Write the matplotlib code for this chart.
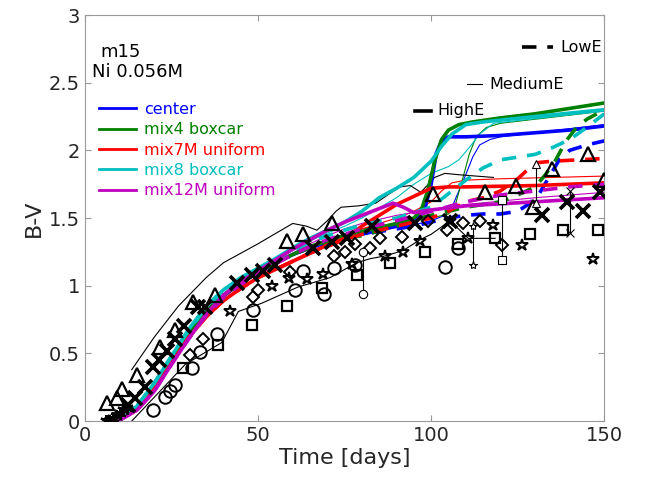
import numpy as np
import matplotlib
matplotlib.use("Agg")
import matplotlib.pyplot as plt
from matplotlib.ticker import FormatStrFormatter

# model light curves (B-V vs days)
center_high_t = [9.5, 15, 20, 25, 30, 35, 40, 45, 50, 55, 60, 65, 70, 75, 80, 85, 90, 95, 98, 100, 101.5, 103, 105, 110, 120, 130, 140, 150]
center_high_bv = [0, 0.1, 0.26, 0.46, 0.65, 0.81, 0.93, 1.02, 1.10, 1.17, 1.23, 1.28, 1.32, 1.35, 1.38, 1.41, 1.44, 1.47, 1.55, 1.75, 1.98, 2.07, 2.10, 2.10, 2.11, 2.13, 2.15, 2.18]
center_med_t = [9.5, 15, 20, 25, 30, 35, 40, 45, 50, 55, 60, 65, 70, 75, 80, 85, 90, 95, 100, 104, 106, 108, 110, 112, 114, 117, 120, 130, 140, 150]
center_med_bv = [0, 0.1, 0.26, 0.45, 0.64, 0.80, 0.92, 1.01, 1.09, 1.16, 1.23, 1.29, 1.34, 1.38, 1.41, 1.42, 1.43, 1.45, 1.48, 1.52, 1.58, 1.70, 1.82, 1.95, 2.04, 2.08, 2.10, 2.13, 2.16, 2.19]
center_low_t = [9.5, 15, 20, 25, 30, 35, 40, 45, 50, 55, 60, 65, 70, 75, 80, 85, 90, 95, 100, 105, 110, 115, 120, 125, 128, 131, 134, 137, 140, 145, 150]
center_low_bv = [0, 0.1, 0.27, 0.47, 0.66, 0.82, 0.94, 1.03, 1.10, 1.17, 1.23, 1.28, 1.32, 1.35, 1.38, 1.40, 1.42, 1.44, 1.47, 1.50, 1.52, 1.53, 1.53, 1.55, 1.60, 1.67, 1.80, 1.93, 2.00, 2.04, 2.07]

mix4_high_t = [9.5, 15, 20, 25, 30, 35, 40, 45, 50, 55, 60, 65, 70, 75, 80, 85, 90, 95, 97, 99, 101, 103, 105, 108, 112, 120, 130, 140, 150]
mix4_high_bv = [0, 0.1, 0.26, 0.46, 0.65, 0.81, 0.93, 1.02, 1.10, 1.17, 1.23, 1.29, 1.33, 1.37, 1.40, 1.43, 1.46, 1.50, 1.55, 1.70, 1.92, 2.08, 2.15, 2.19, 2.21, 2.24, 2.27, 2.31, 2.35]
mix4_med_t = [9.5, 15, 20, 25, 30, 35, 40, 45, 50, 55, 60, 65, 70, 75, 80, 90, 100, 105, 107, 109, 111, 113, 116, 120, 130, 140, 150]
mix4_med_bv = [0, 0.1, 0.26, 0.45, 0.64, 0.80, 0.92, 1.01, 1.09, 1.16, 1.23, 1.29, 1.34, 1.38, 1.42, 1.46, 1.50, 1.53, 1.60, 1.78, 1.97, 2.10, 2.17, 2.20, 2.23, 2.26, 2.29]
mix4_low_t = [9.5, 15, 20, 25, 30, 35, 40, 45, 50, 55, 60, 65, 70, 75, 80, 90, 95, 100, 105, 110, 115, 120, 125, 130, 133, 136, 139, 142, 145, 150]
mix4_low_bv = [0, 0.1, 0.26, 0.46, 0.65, 0.81, 0.93, 1.02, 1.10, 1.17, 1.23, 1.28, 1.32, 1.35, 1.37, 1.44, 1.49, 1.52, 1.55, 1.58, 1.60, 1.62, 1.67, 1.73, 1.82, 1.93, 2.07, 2.17, 2.23, 2.30]

mix7_high_t = [9.5, 15, 20, 25, 30, 35, 40, 45, 50, 55, 60, 65, 70, 75, 80, 85, 90, 95, 100, 105, 110, 130, 150]
mix7_high_bv = [0, 0.09, 0.24, 0.43, 0.62, 0.77, 0.89, 0.98, 1.06, 1.12, 1.18, 1.24, 1.30, 1.35, 1.44, 1.52, 1.60, 1.66, 1.72, 1.73, 1.73, 1.74, 1.76]
mix7_med_t = [9.5, 15, 20, 25, 30, 35, 40, 45, 50, 55, 60, 65, 70, 75, 80, 90, 95, 100, 103, 106, 110, 120, 150]
mix7_med_bv = [0, 0.09, 0.24, 0.43, 0.62, 0.77, 0.89, 0.98, 1.06, 1.13, 1.19, 1.25, 1.31, 1.37, 1.42, 1.50, 1.55, 1.62, 1.70, 1.76, 1.78, 1.79, 1.81]
mix7_low_t = [9.5, 15, 20, 25, 30, 35, 40, 45, 50, 55, 60, 65, 70, 75, 80, 90, 100, 105, 110, 115, 120, 125, 128, 131, 135, 150]
mix7_low_bv = [0, 0.09, 0.24, 0.43, 0.62, 0.77, 0.89, 0.98, 1.06, 1.12, 1.18, 1.24, 1.29, 1.34, 1.38, 1.44, 1.50, 1.55, 1.62, 1.65, 1.70, 1.79, 1.86, 1.91, 1.92, 1.94]

mix8_high_t = [9.5, 15, 20, 25, 30, 35, 40, 45, 50, 55, 60, 65, 70, 75, 80, 85, 90, 95, 100, 103, 106, 110, 115, 130, 150]
mix8_high_bv = [0, 0.11, 0.28, 0.48, 0.68, 0.85, 0.97, 1.06, 1.13, 1.20, 1.28, 1.35, 1.41, 1.47, 1.55, 1.65, 1.72, 1.80, 1.92, 2.03, 2.12, 2.19, 2.21, 2.25, 2.30]
mix8_med_t = [9.5, 15, 20, 25, 30, 35, 40, 45, 50, 55, 60, 65, 70, 75, 80, 90, 95, 100, 105, 108, 111, 114, 118, 125, 150]
mix8_med_bv = [0, 0.11, 0.28, 0.48, 0.67, 0.84, 0.96, 1.05, 1.12, 1.19, 1.26, 1.33, 1.39, 1.44, 1.50, 1.65, 1.75, 1.83, 1.88, 1.93, 2.02, 2.12, 2.20, 2.22, 2.29]
mix8_low_t = [9.5, 15, 20, 25, 30, 35, 40, 45, 50, 55, 60, 65, 70, 75, 80, 90, 100, 105, 110, 115, 120, 130, 135, 140, 145, 150]
mix8_low_bv = [0, 0.11, 0.28, 0.48, 0.67, 0.84, 0.96, 1.05, 1.12, 1.19, 1.26, 1.32, 1.37, 1.41, 1.45, 1.50, 1.58, 1.68, 1.78, 1.87, 1.93, 1.97, 2.02, 2.08, 2.17, 2.27]

mix12_high_t = [9.5, 15, 20, 25, 30, 35, 40, 45, 50, 55, 60, 65, 70, 75, 80, 85, 89, 92, 95, 100, 110, 130, 150]
mix12_high_bv = [0, 0.08, 0.22, 0.42, 0.61, 0.79, 0.93, 1.03, 1.11, 1.19, 1.27, 1.34, 1.41, 1.47, 1.52, 1.57, 1.61, 1.58, 1.54, 1.56, 1.59, 1.62, 1.65]
mix12_med_t = [9.5, 15, 20, 25, 30, 35, 40, 45, 50, 55, 60, 65, 70, 75, 80, 90, 100, 110, 130, 150]
mix12_med_bv = [0, 0.08, 0.22, 0.42, 0.61, 0.78, 0.91, 1.01, 1.09, 1.17, 1.24, 1.31, 1.37, 1.42, 1.46, 1.52, 1.56, 1.60, 1.65, 1.69]
mix12_low_t = [9.5, 15, 20, 25, 30, 35, 40, 45, 50, 55, 60, 65, 70, 75, 80, 90, 100, 110, 120, 130, 140, 150]
mix12_low_bv = [0, 0.08, 0.22, 0.42, 0.61, 0.78, 0.91, 1.01, 1.09, 1.16, 1.23, 1.29, 1.34, 1.38, 1.42, 1.48, 1.55, 1.62, 1.67, 1.70, 1.73, 1.75]

# observed SNe (open black markers)
tri_t = [6.3, 9.2, 10.6, 14.9, 21.7, 26, 31.2, 37.6, 58.3, 63, 71.3, 100.6, 115.6, 124.6, 129.4, 134.9, 145.4, 150]
tri_bv = [0.13, 0.17, 0.24, 0.34, 0.55, 0.67, 0.88, 0.93, 1.33, 1.38, 1.46, 1.68, 1.69, 1.74, 1.58, 1.86, 1.97, 1.78]
cross_t = [12.4, 14.5, 17.3, 19.7, 21.5, 23.6, 26, 28.5, 32.7, 34.7, 43.8, 48.2, 51.5, 54.9, 66, 71.3, 75.6, 82.9, 95.4, 105.5, 132, 139.2, 144, 148.8]
cross_bv = [0.12, 0.17, 0.25, 0.40, 0.45, 0.52, 0.61, 0.70, 0.84, 0.84, 1.02, 1.08, 1.11, 1.15, 1.28, 1.32, 1.35, 1.44, 1.46, 1.48, 1.52, 1.62, 1.55, 1.69]
ast_t = [6, 7, 8, 9, 10, 11, 12]
ast_bv = [0.0, 0.0, 0.02, 0.04, 0.06, 0.08, 0.10]
dia_t = [30.3, 34.2, 48.6, 50, 59.2, 71.8, 75.1, 78, 82.4, 85.3, 91.5, 99.1, 104.5, 109.3, 114.2, 120.4]
dia_bv = [0.49, 0.61, 0.92, 0.97, 1.10, 1.22, 1.25, 1.31, 1.28, 1.35, 1.36, 1.48, 1.41, 1.46, 1.48, 1.30]
circ_t = [19.7, 23.1, 24.6, 26, 30.8, 33.2, 38, 48.6, 60.7, 63.1, 68.9, 71.8, 78, 104, 107.9]
circ_bv = [0.08, 0.18, 0.22, 0.27, 0.39, 0.51, 0.64, 0.82, 0.97, 1.11, 0.94, 1.13, 1.15, 1.14, 1.28]
sq_t = [28.4, 38.5, 48.2, 58.3, 68.4, 78.5, 88.2, 98.3, 107.8, 118.5, 128.6, 138.2, 148.3]
sq_bv = [0.39, 0.56, 0.71, 0.85, 0.98, 1.08, 1.17, 1.25, 1.31, 1.35, 1.38, 1.41, 1.41]
star_t = [41.9, 54, 58.8, 64, 68.8, 77.1, 86.7, 91.9, 96.8, 105.5, 110.7, 118, 126.2, 146.8]
star_bv = [0.81, 1.0, 1.06, 1.05, 1.09, 1.16, 1.22, 1.25, 1.33, 1.48, 1.35, 1.45, 1.30, 1.20]

# error bars with small markers at the ends
eb_t = [80.2, 112.2, 120.4, 130.3, 140.2]
eb_lo = [0.94, 1.15, 1.19, 1.61, 1.39]
eb_hi = [1.25, 1.44, 1.63, 1.90, 1.70]

# thin black comparison curves
upper_t = [13.5, 20, 27, 35, 40, 50, 60, 64, 67, 70, 72.5, 74, 79, 84, 88, 91, 94, 97, 101, 104, 108, 118]
upper_bv = [0.38, 0.62, 0.85, 1.06, 1.17, 1.31, 1.46, 1.44, 1.41, 1.48, 1.55, 1.58, 1.59, 1.61, 1.68, 1.73, 1.74, 1.69, 1.80, 1.83, 1.82, 1.80]
lower_t = [13.5, 22, 29, 39.5, 44.3, 51, 61.5, 70.8, 78.5, 82.4, 86.7, 91.9, 96.8, 100, 105.5, 110.7, 118.5]
lower_bv = [0, 0.23, 0.42, 0.58, 0.81, 0.87, 0.99, 1.06, 1.17, 1.20, 1.22, 1.26, 1.34, 1.38, 1.48, 1.35, 1.35]

mix_names = ["center", "mix4 boxcar", "mix7M uniform", "mix8 boxcar", "mix12M uniform"]


def plot_models(ax):
    colors = [(0, 0, 1), (0, 0.5, 0), (1, 0, 0), (0, 0.75, 0.75), (0.75, 0, 0.75)]
    runs = [
        (center_high_t, center_high_bv, center_med_t, center_med_bv, center_low_t, center_low_bv),
        (mix4_high_t, mix4_high_bv, mix4_med_t, mix4_med_bv, mix4_low_t, mix4_low_bv),
        (mix7_high_t, mix7_high_bv, mix7_med_t, mix7_med_bv, mix7_low_t, mix7_low_bv),
        (mix8_high_t, mix8_high_bv, mix8_med_t, mix8_med_bv, mix8_low_t, mix8_low_bv),
        (mix12_high_t, mix12_high_bv, mix12_med_t, mix12_med_bv, mix12_low_t, mix12_low_bv),
    ]
    handles = []
    for c, (th, bh, tm, bm, tl, bl) in zip(colors, runs):
        ax.plot(tm, bm, color=c, lw=0.8, zorder=2)
        ax.plot(tl, bl, color=c, lw=2.6, linestyle=(0, (4, 3)), zorder=3)
        h, = ax.plot(th, bh, color=c, lw=2.6, zorder=3)
        handles.append(h)
    return handles


def plot_observed(ax):
    k = dict(color="black", linestyle="none", markerfacecolor="none", zorder=4)
    ax.plot(upper_t, upper_bv, color="black", lw=0.8, zorder=2)
    ax.plot(lower_t, lower_bv, color="black", lw=0.8, zorder=2)
    ax.plot(tri_t, tri_bv, marker="^", ms=10, mew=1.6, **k)
    ax.plot(cross_t, cross_bv, marker="x", ms=10, mew=2.6, **k)
    ax.plot(ast_t, ast_bv, marker=(6, 2, 0), ms=9, mew=1.6, **k)
    ax.plot(dia_t, dia_bv, marker="D", ms=6.5, mew=1.4, **k)
    ax.plot(circ_t, circ_bv, marker="o", ms=9, mew=1.4, **k)
    ax.plot(sq_t, sq_bv, marker="s", ms=7.5, mew=1.6, **k)
    ax.plot(star_t, star_bv, marker="*", ms=9, mew=1.4, **k)
    for t, lo, hi, m in zip(eb_t, eb_lo, eb_hi, ["o", "*", "s", "^", "x"]):
        ax.plot([t, t], [lo, hi], color="black", lw=0.8, marker=m, ms=6,
                mew=0.8, markerfacecolor="white", zorder=4)


def main():
    fig = plt.figure(figsize=(6.49, 4.84), dpi=100)
    ax = fig.add_axes([0.131, 0.130, 0.800, 0.839])
    handles = plot_models(ax)
    plot_observed(ax)

    ax.set_xlim(0, 150)
    ax.set_ylim(0, 3)
    ax.set_xticks([0, 50, 100, 150])
    ax.set_yticks([0, 0.5, 1, 1.5, 2, 2.5, 3])
    ax.yaxis.set_major_formatter(FormatStrFormatter("%g"))
    ax.tick_params(direction="in", length=4, width=0.8, colors="#999999",
                   labelcolor="#262626", labelsize=14, top=True, right=True)
    for s in ax.spines.values():
        s.set_color("#999999")
    ax.set_xlabel("Time [days]", fontsize=16, color="#262626", labelpad=2)
    ax.set_ylabel("B-V", fontsize=16, color="#262626", labelpad=4)

    leg = ax.legend(handles, mix_names, loc="upper left", bbox_to_anchor=(0.0, 0.822),
                    frameon=False, labelcolor="linecolor", fontsize=11.5,
                    handlelength=2.3, handletextpad=0.5, labelspacing=0.34)
    for ln in leg.get_lines():
        ln.set_linewidth(2.0)

    # energy key
    ax.plot([0.842, 0.902], [0.921, 0.921], transform=ax.transAxes, color="black",
            lw=2.6, linestyle=(0, (4, 3)), clip_on=False)
    ax.text(0.915, 0.921, "LowE", transform=ax.transAxes, fontsize=11.5, va="center")
    ax.plot([0.736, 0.765], [0.830, 0.830], transform=ax.transAxes, color="black", lw=0.8)
    ax.text(0.778, 0.830, "MediumE", transform=ax.transAxes, fontsize=11.5, va="center")
    ax.plot([0.636, 0.667], [0.764, 0.764], transform=ax.transAxes, color="black", lw=2.6)
    ax.text(0.678, 0.764, "HighE", transform=ax.transAxes, fontsize=11.5, va="center")

    ax.text(0.029, 0.909, "m15", transform=ax.transAxes, fontsize=13, va="center")
    ax.text(0.0135, 0.860, "Ni 0.056M", transform=ax.transAxes, fontsize=13, va="center")

    fig.savefig("out.png", dpi=100)


if __name__ == "__main__":
    main()
